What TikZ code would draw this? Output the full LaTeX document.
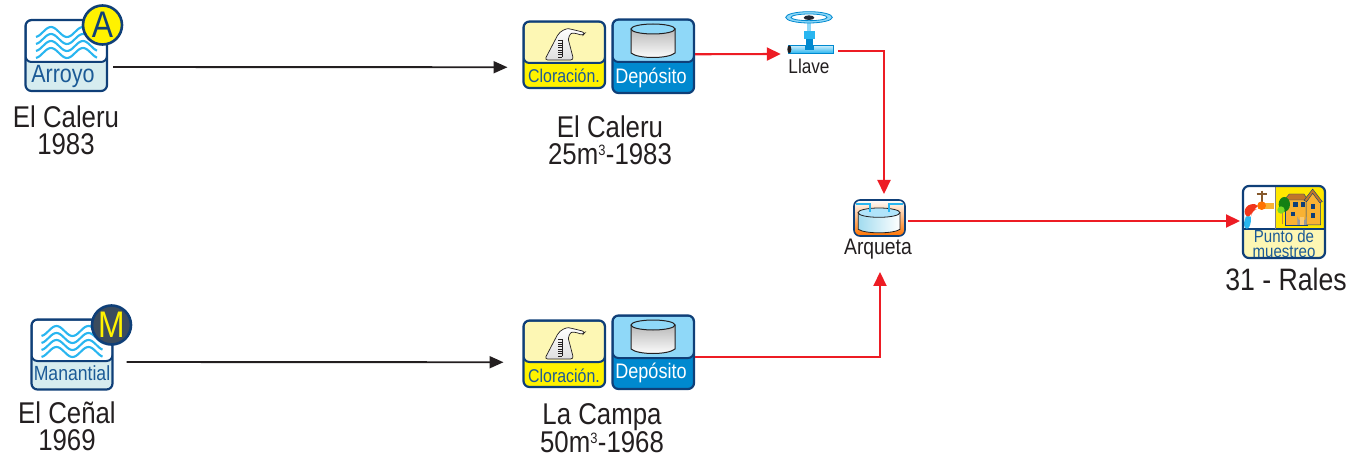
\documentclass[tikz,border=0pt]{standalone}
\usepackage{fontspec}
\setmainfont{Liberation Sans}
\newfontfamily\cond[FakeStretch=0.86]{Liberation Sans}
\usetikzlibrary{arrows.meta}
\definecolor{navy}{HTML}{0F3F78}
\definecolor{ink}{HTML}{231F20}
\definecolor{wave}{HTML}{29B6F0}
\definecolor{paleblue}{HTML}{D6ECEF}
\definecolor{txtblue}{HTML}{1B5A96}
\definecolor{paleyel}{HTML}{FDF7B4}
\definecolor{yel}{HTML}{FFF200}
\definecolor{skyb}{HTML}{8FD8F8}
\definecolor{midb}{HTML}{0089CF}
\definecolor{redl}{HTML}{ED1C24}
\definecolor{gold}{HTML}{F9B233}
\definecolor{slate}{HTML}{3B4C5E}
\definecolor{roof}{HTML}{C0762A}
\tikzset{
  iconframe/.style={draw=navy,line width=2.2pt,rounded corners=6pt,inner sep=0pt,outer sep=0pt,fill=none},
  wavy/.style={draw=wave,line width=2.1pt},
  blk/.style={draw=ink,line width=1.9pt,-{Triangle[length=14pt,width=12pt]}},
  redc/.style={draw=redl,line width=2.1pt,-{Triangle[length=14pt,width=13pt]}},
  biglabel/.style={text=ink,align=center,inner sep=0pt,font=\cond\fontsize{30}{27}\selectfont},
  smalllabel/.style={text=ink,inner sep=0pt,font=\cond\fontsize{#1}{#1}\selectfont},
  paneltext/.style={inner sep=0pt,font=\cond\fontsize{#1}{#1}\selectfont},
  badge/.style={circle,draw=navy,line width=2.6pt,inner sep=0pt,minimum size=39pt,font=\cond\fontsize{37}{37}\selectfont}
}
% name x1 y1 x2 y2 ydiv top bottom
\newcommand\panelbox[8]{%
  \begin{scope}
    \clip[rounded corners=6pt] (#2,#3) rectangle (#4,#5);
    \fill[#8] (#2,#3) rectangle (#4,#5);
    \fill[#7,rounded corners=6pt] (#2,#3) rectangle (#4,#6);
    \draw[navy,line width=2pt,rounded corners=6pt] (#2,#3) rectangle (#4,#6);
  \end{scope}
  \node[iconframe,minimum width={(#4-#2)*1pt},minimum height={(#5-#3)*1pt}] (#1) at ({(#2+#4)/2},{(#3+#5)/2}) {};
}
% x0 ytop
\newcommand\wavesat[2]{%
  \foreach \k in {0,1,2,3}{
    \draw[wavy] plot[domain=0:61,samples=45,smooth] ({#1+\x},{#2+\k*7+5-5*cos((\x-15)*11.25)});
  }
}
% shift y for chlorination
\newcommand\flaskicon[1]{%
  \begin{scope}[shift={(510,{10+#1})},x=0.3333pt,y=-0.3333pt]
    \shade[top color=white,bottom color=gray!25,draw=ink,line width=0.7pt,rounded corners=3pt]
      (104,150) -- (138,85) .. controls (150,62) and (170,55) .. (185,58)
      -- (226,68) -- (218,77) -- (195,69) .. controls (180,70) and (174,85) .. (178,100) -- (191,150) -- cycle;
    \foreach \k in {0,1,2,3,4,5,6,7}{\draw[ink,line width=0.45pt] (145,{92+\k*7}) -- (157,{92+\k*7});}
    \draw[ink,line width=0.45pt] (157,90) -- (157,141);
  \end{scope}
}
\newcommand\cylicon[1]{%
  \begin{scope}[yshift={-1pt*#1}]
    \shade[top color=gray!55,bottom color=white,draw=ink,line width=1pt]
      (631,29) -- (631,53) .. controls (638,59) and (668,59) .. (675,53) -- (675,29) -- cycle;
    \draw[ink,line width=1pt,fill=skyb] (653,29) ellipse [x radius=22,y radius=5];
  \end{scope}
}
\begin{document}
\begin{tikzpicture}[x=1pt,y=-1pt]
\useasboundingbox (0,0) rectangle (1350,457);
% Arroyo
\panelbox{src1}{25.5}{20}{107}{91}{62}{white}{paleblue}
\wavesat{36}{27}
\node[paneltext=25,text=txtblue] (src1t) at (63,76.5) {Arroyo};
\node[badge,fill=yel,text=navy] (src1b) at (102.5,25) {A};
\node[biglabel] (src1l) at (66,130.5) {El Caleru\\1983};
% Manantial
\panelbox{src2}{31.5}{319.5}{112.5}{389.5}{361}{white}{paleblue}
\wavesat{41.5}{326}
\node[paneltext=20.5,text=txtblue] (src2t) at (72,373) {Manantial};
\node[badge,fill=slate,text=yel] (src2b) at (111.5,325) {M};
\node[biglabel] (src2l) at (67,426) {El Ceñal\\1969};
% Station 1
\panelbox{clor1}{523.5}{21.5}{605}{88}{63}{paleyel}{yel}
\flaskicon{0}
\node[paneltext=18.5,text=txtblue] (clor1t) at (564,76) {Cloración.};
\panelbox{dep1}{612.5}{19.5}{694}{93}{62}{skyb}{midb}
\cylicon{0}
\node[paneltext=21,text=white] (dep1t) at (651,77.5) {Depósito};
\node[biglabel] (st1l) at (610,140.5) {El Caleru\\25m\textsuperscript{\fontsize{15}{15}\selectfont 3}-1983};
% Station 2
\panelbox{clor2}{523.5}{320.5}{605}{387}{362}{paleyel}{yel}
\flaskicon{299}
\node[paneltext=18.5,text=txtblue] (clor2t) at (564,375.5) {Cloración.};
\panelbox{dep2}{612.5}{315.5}{694}{389}{358}{skyb}{midb}
\cylicon{296}
\node[paneltext=21,text=white] (dep2t) at (651,373) {Depósito};
\node[biglabel] (st2l) at (602,428) {La Campa\\50m\textsuperscript{\fontsize{15}{15}\selectfont 3}-1968};
% Llave
\node[inner sep=0pt,minimum width=46pt,minimum height=7pt] (llave) at (810,49.5) {};
\begin{scope}[shift={(770,0)},x=0.3333pt,y=-0.3333pt]
  \fill[skyb] (112,62) rectangle (124,92);
  \fill[wave] (101,92) rectangle (134,116);
  \fill[midb] (108,116) rectangle (130,148);
  \draw[midb,line width=0.8pt,fill=skyb] (117,52) ellipse [x radius=70,y radius=17];
  \draw[midb,line width=0.8pt,fill=white] (117,52) ellipse [x radius=54,y radius=10];
  \shade[top color=skyb!50!white,bottom color=wave] (55,137) rectangle (190,160);
  \draw[midb,line width=0.5pt] (55,137) rectangle (190,160);
  \fill[midb] (106,137) rectangle (132,149);
  \fill[ink] (58,148) ellipse [x radius=6,y radius=12];
  \fill[ink!80!navy] (117,53) ellipse [x radius=16,y radius=7];
\end{scope}
\node[smalllabel=20] (llavel) at (809,66) {Llave};
% Arqueta
\begin{scope}
  \clip[rounded corners=6pt] (854,200) rectangle (905,236);
  \shade[top color=white,bottom color=orange!90!red] (854,200) rectangle (905,236);
\end{scope}
\node[iconframe,minimum width=51pt,minimum height=36pt,line width=1.6pt] (arq) at (879.5,218) {};
\begin{scope}[shift={(835,190)},x=0.3333pt,y=-0.3333pt]
  \shade[left color=paleblue!70!wave,right color=white,draw=ink,line width=0.8pt]
    (70,68) -- (70,118) .. controls (90,132) and (175,132) .. (195,118) -- (195,68) -- cycle;
  \draw[ink,line width=0.8pt,fill=skyb!70!white] (132,68) ellipse [x radius=63,y radius=14];
  \draw[wave,line width=1.8pt] (62,42) -- (105,42) -- (105,66);
  \draw[wave,line width=1.8pt] (204,42) -- (162,42) -- (162,66);
\end{scope}
\node[smalllabel=22.5] (arql) at (878,249.5) {Arqueta};
% Punto de muestreo
\begin{scope}
  \clip[rounded corners=6pt] (1243,186) rectangle (1325,258);
  \fill[paleyel] (1243,186) rectangle (1325,258);
  \fill[white] (1243,186) rectangle (1275,229);
  \fill[yel!90!orange] (1275,186) rectangle (1325,229);
\end{scope}
\draw[navy,line width=1.4pt] (1243,229) -- (1325,229);
\draw[gray,line width=0.8pt] (1275,186) -- (1275,229);
\begin{scope}[shift={(1220,175)},x=0.3333pt,y=-0.3333pt]
  % tap
  \draw[brown!70!black,line width=1.7pt] (125,47) -- (125,80) (110,56) -- (140,56);
  \fill[redl!75!orange,rounded corners=6pt] (74,128) -- (74,92) -- (115,84) -- (115,101) -- (94,106) -- (94,128) -- cycle;
  \fill[gold] (115,84) rectangle (162,101);
  \fill[orange!90!red] (125,92) circle [radius=13];
  \fill[wave] (72,150) .. controls (72,138) and (76,130) .. (78,124) -- (92,124) .. controls (94,135) and (92,148) .. (88,155) .. controls (84,165) and (74,162) .. (72,150) -- cycle;
  % house
  \fill[gold,draw=navy,line width=0.5pt] (196,150) -- (196,72) -- (262,72) -- (262,150) -- cycle;
  \fill[gold,draw=navy,line width=0.5pt] (258,150) -- (258,72) -- (278,50) -- (302,80) -- (302,150) -- cycle;
  \fill[roof,draw=navy,line width=0.4pt] (192,75) -- (208,57) -- (252,57) -- (264,75) -- cycle;
  \fill[roof,draw=navy,line width=0.4pt] (252,76) -- (278,42) -- (307,80) -- (299,83) -- (278,55) -- (260,80) -- cycle;
  \fill[gray!80!white] (232,150) -- (232,124) arc[start angle=180,end angle=0,radius=14] -- (260,150) -- cycle;
  \fill[gold!70!white] (239,150) rectangle (253,126);
  \foreach \a in {220,242}{\fill[navy] (\a,82) rectangle +(14,13);}
  \fill[navy] (272,88) rectangle +(14,13);
  \fill[navy] (272,115) rectangle +(14,13);
  \fill[navy] (212,110) rectangle +(12,12);
  \draw[brown,line width=1pt] (186,148) -- (186,110);
  \fill[green!50!black!85!gray] (193,88) ellipse [x radius=17,y radius=22];
  \fill[green!55!yellow!70!gray] (183,105) circle [radius=11];
\end{scope}
\node[iconframe,minimum width=82pt,minimum height=72pt] (punto) at (1284,222) {};
\node[text=txtblue,align=center,inner sep=0pt,font=\cond\fontsize{17.5}{14.5}\selectfont] (puntot) at (1284,243.5) {Punto de\\muestreo};
\node[text=ink,inner sep=0pt,font=\cond\fontsize{31}{31}\selectfont] (puntol) at (1286,279) {31 - Rales};
% Connectors
\draw[blk] ([shift={(6,11.5)}]src1.east) -- ([shift={(-16,12.5)}]clor1.west);
\draw[blk] ([shift={(14,7.5)}]src2.east) -- ([shift={(-20,8.5)}]clor2.west);
\draw[redc] ([shift={(1,-2)}]dep1.east) -- ([shift={(-6,4.5)}]llave.west);
\draw[redc] ([shift={(5,1.5)}]llave.east) -| ([shift={(4.5,-6)}]arq.north);
\draw[redc] ([shift={(1,5)}]dep2.east) -| ([shift={(0.5,36)}]arq.south);
\draw[redc] ([shift={(3,3)}]arq.east) -- ([shift={(-3,-1)}]punto.west);
\end{tikzpicture}
\end{document}
